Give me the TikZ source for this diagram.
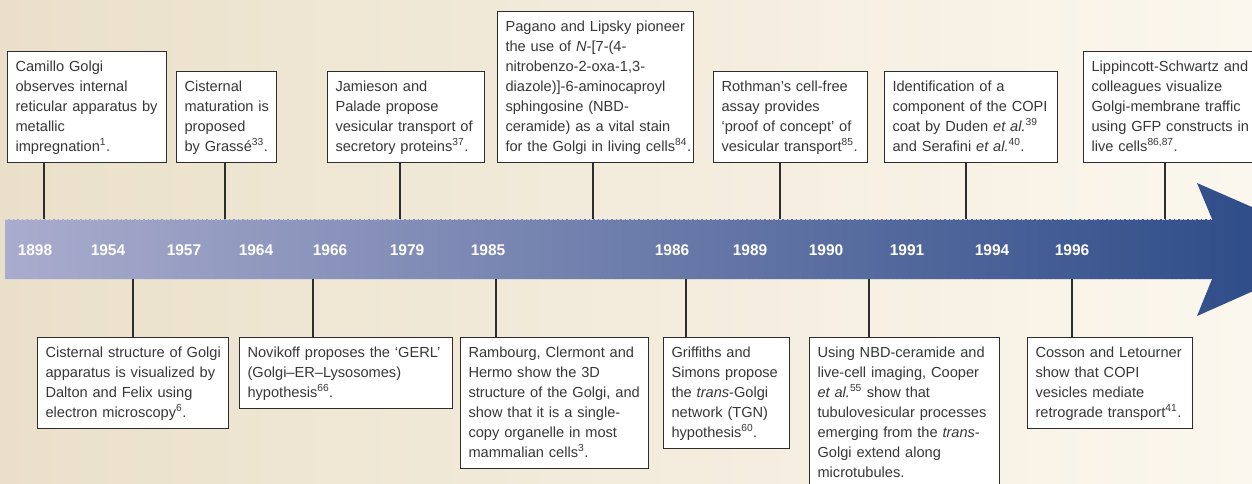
\documentclass[tikz,border=0pt]{standalone}
\usepackage{fontspec}
\setmainfont{Liberation Sans}
\definecolor{bgL}{RGB}{234,224,202}
\definecolor{bgR}{RGB}{252,247,238}
\definecolor{barL}{RGB}{170,172,205}
\definecolor{barR}{RGB}{38,70,132}
\definecolor{txt}{RGB}{55,55,55}
\definecolor{edge}{RGB}{45,45,45}
\newcommand{\myboxfont}{\fontsize{14.6}{20}\selectfont}
\newcommand{\boxlines}[1]{\begin{tabular}{@{}l@{}}#1\end{tabular}}
\begin{document}
\begin{tikzpicture}[x=1pt,y=-1pt,
  box/.style={draw=edge, line width=1.1pt, fill=white, anchor=north west, align=left,
    inner xsep=8pt, inner ysep=5.5pt, font=\myboxfont, text=txt},
  year/.style={text=white, font=\fontsize{15.5}{18}\selectfont\bfseries},
  link/.style={draw=edge, line width=1.1pt}]
\useasboundingbox (0,0) rectangle (1252,483);
\clip (0,0) rectangle (1252,483);
\shade[left color=bgL, right color=bgR] (0,0) rectangle (1252,483);
% timeline bar with arrow head
\shade[left color=barL, right color=barR] (5,219) -- (1212,219) -- (1197,183) -- (1348,249)
  -- (1197,316) -- (1212,279) -- (5,279) -- cycle;
\draw[white!70!gray, line width=0.5pt, dash pattern=on 3pt off 1.5pt] (5,219) -- (1212,219);
\draw[white!70!gray, line width=0.5pt, dash pattern=on 3pt off 1.5pt] (5,279) -- (1212,279);
% years
\node[year] (y1898) at (35,250) {1898};
\node[year] (y1954) at (108,250) {1954};
\node[year] (y1957) at (184,250) {1957};
\node[year] (y1964) at (256,250) {1964};
\node[year] (y1966) at (330,250) {1966};
\node[year] (y1979) at (407,250) {1979};
\node[year] (y1985) at (488,250) {1985};
\node[year] (y1986) at (672,250) {1986};
\node[year] (y1989) at (750,250) {1989};
\node[year] (y1990) at (826,250) {1990};
\node[year] (y1991) at (907,250) {1991};
\node[year] (y1994) at (992,250) {1994};
\node[year] (y1996) at (1072,250) {1996};
% attachment points on the bar
\coordinate (c1) at (44,219);
\coordinate (c2) at (225,219);
\coordinate (c3) at (400,219);
\coordinate (c4) at (593,219);
\coordinate (c5) at (780,219);
\coordinate (c6) at (966,219);
\coordinate (c7) at (1165,219);
\coordinate (d1) at (133,279);
\coordinate (d2) at (313,279);
\coordinate (d3) at (496,279);
\coordinate (d4) at (686,279);
\coordinate (d5) at (869,279);
\coordinate (d6) at (1072,279);
% top boxes
\node[box, text width=143pt] (t1) at (7,51) {\boxlines{Camillo Golgi\\observes internal\\reticular apparatus by\\metallic\\impregnation\textsuperscript{1}.}};
\node[box, text width=84pt] (t2) at (176,71) {\boxlines{Cisternal\\maturation is\\proposed\\by Grassé\textsuperscript{33}.}};
\node[box, text width=141pt] (t3) at (327,71) {\boxlines{Jamieson and\\Palade propose\\vesicular transport of\\secretory proteins\textsuperscript{37}.}};
\node[box, text width=180pt] (t4) at (497,11) {\boxlines{Pagano and Lipsky pioneer\\the use of \emph{N}-[7-(4-\\nitrobenzo-2-oxa-1,3-\\diazole)]-6-aminocaproyl\\sphingosine (NBD-\\ceramide) as a vital stain\\for the Golgi in living cells\textsuperscript{84}.}};
\node[box, text width=138pt] (t5) at (713,71) {\boxlines{Rothman’s cell-free\\assay provides\\‘proof of concept’ of\\vesicular transport\textsuperscript{85}.}};
\node[box, text width=157pt] (t6) at (884,71) {\boxlines{Identification of a\\component of the COPI\\coat by Duden \emph{et al.}\textsuperscript{39}\\and Serafini \emph{et al.}\textsuperscript{40}.}};
\node[box, text width=160pt] (t7) at (1083,51) {\boxlines{Lippincott-Schwartz and\\colleagues visualize\\Golgi-membrane traffic\\using GFP constructs in\\live cells\textsuperscript{86,87}.}};
% bottom boxes
\node[box, text width=175pt] (b1) at (37,337) {\boxlines{Cisternal structure of Golgi\\apparatus is visualized by\\Dalton and Felix using\\electron microscopy\textsuperscript{6}.}};
\node[box, text width=197pt] (b2) at (239,337) {\boxlines{Novikoff proposes the ‘GERL’\\(Golgi–ER–Lysosomes)\\hypothesis\textsuperscript{66}.}};
\node[box, text width=172pt] (b3) at (460,337) {\boxlines{Rambourg, Clermont and\\Hermo show the 3D\\structure of the Golgi, and\\show that it is a single-\\copy organelle in most\\mammalian cells\textsuperscript{3}.}};
\node[box, text width=110pt] (b4) at (663,337) {\boxlines{Griffiths and\\Simons propose\\the \emph{trans}-Golgi\\network (TGN)\\hypothesis\textsuperscript{60}.}};
\node[box, text width=174pt] (b5) at (809,337) {\boxlines{Using NBD-ceramide and\\live-cell imaging, Cooper\\\emph{et al.}\textsuperscript{55} show that\\tubulovesicular processes\\emerging from the \emph{trans}-\\Golgi extend along\\microtubules.}};
\node[box, text width=149pt] (b6) at (1027,337) {\boxlines{Cosson and Letourner\\show that COPI\\vesicles mediate\\retrograde transport\textsuperscript{41}.}};
% connectors
\draw[link] (t1.south -| c1) -- (c1);
\draw[link] (t2.south -| c2) -- (c2);
\draw[link] (t3.south -| c3) -- (c3);
\draw[link] (t4.south -| c4) -- (c4);
\draw[link] (t5.south -| c5) -- (c5);
\draw[link] (t6.south -| c6) -- (c6);
\draw[link] (t7.south -| c7) -- (c7);
\draw[link] (d1) -- (b1.north -| d1);
\draw[link] (d2) -- (b2.north -| d2);
\draw[link] (d3) -- (b3.north -| d3);
\draw[link] (d4) -- (b4.north -| d4);
\draw[link] (d5) -- (b5.north -| d5);
\draw[link] (d6) -- (b6.north -| d6);
\end{tikzpicture}
\end{document}
